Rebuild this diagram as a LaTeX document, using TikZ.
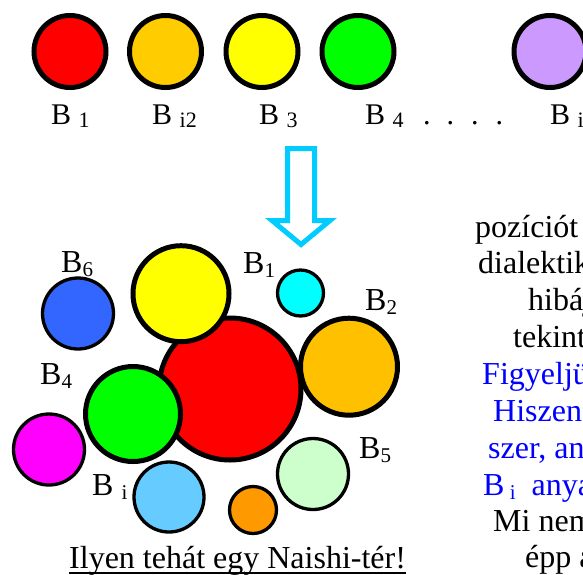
\documentclass[tikz,border=0pt]{standalone}
\usepackage{fontspec}
\setmainfont{Liberation Serif}
\definecolor{cRed}{HTML}{FF0000}
\definecolor{cOrange}{HTML}{FFCC00}
\definecolor{cOrangeB}{HTML}{FFC000}
\definecolor{cYellow}{HTML}{FFFF00}
\definecolor{cGreen}{HTML}{00FF00}
\definecolor{cPurple}{HTML}{CC99FF}
\definecolor{cBlue}{HTML}{3366FF}
\definecolor{cCyan}{HTML}{00FFFF}
\definecolor{cMagenta}{HTML}{FF00FF}
\definecolor{cLightBlue}{HTML}{66CCFF}
\definecolor{cSmallOrange}{HTML}{FF9900}
\definecolor{cLightGreen}{HTML}{CCFFCC}
\definecolor{cArrow}{HTML}{00CCFF}
\definecolor{cText}{HTML}{0000FF}
\newcommand\tsub[1]{\raisebox{-3pt}{\fontsize{22}{22}\selectfont #1}}
\newcommand\csub[1]{\raisebox{-4pt}{\fontsize{21}{21}\selectfont #1}}
\tikzset{
  bigball/.style={circle, draw=black, line width=5pt, inner sep=0pt},
  smallball/.style={circle, draw=black, line width=3.3pt, inner sep=0pt},
  toplbl/.style={anchor=base west, inner sep=0pt, font=\fontsize{30}{34}\selectfont},
  lbl/.style={anchor=base west, inner sep=0pt, font=\fontsize{32}{36}\selectfont},
  txtline/.style={anchor=base west, inner sep=0pt, font=\fontsize{32}{36}\selectfont},
  bluetxt/.style={txtline, text=cText},
  blockarrow/.style={draw=cArrow, fill=white, line width=5pt, line join=miter},
}
\begin{document}
\begin{tikzpicture}[x=1pt,y=-1pt]
\useasboundingbox (0,0) rectangle (583,574);
\begin{scope}
\clip (0,0) rectangle (583,574);
% top row
\node[bigball, fill=cRed, minimum size=72pt] (t1) at (70,51.5) {};
\node[bigball, fill=cOrange, minimum size=72pt] (t2) at (165.5,51.5) {};
\node[bigball, fill=cYellow, minimum size=72pt] (t3) at (262,51.5) {};
\node[bigball, fill=cGreen, minimum size=72pt] (t4) at (358,51.5) {};
\node[bigball, fill=cPurple, minimum size=72pt] (t5) at (550,51.5) {};
\node[toplbl] (l1) at (51,124) {B \tsub{1}};
\node[toplbl] (l2) at (152,124) {B \tsub{i2}};
\node[toplbl] (l3) at (259,124) {B \tsub{3}};
\node[toplbl] (l4) at (365,124) {B \tsub{4}};
\node[toplbl] (dots) at (423,124) {.\hspace{16pt}.\hspace{17pt}.\hspace{17pt}.};
\node[toplbl] (l5) at (550,124) {B \tsub{i}};
% arrow
\draw[blockarrow] (287.5,148.5) -- (314.5,148.5) -- (314.5,220.5) -- (330,220.5)
  -- (301,244.5) -- (272,220.5) -- (287.5,220.5) -- cycle;
% cluster
\node[bigball, fill=cRed, minimum size=142pt] (red) at (230,389) {};
\node[smallball, fill=cBlue, minimum size=71pt] (blue) at (78,313.5) {};
\node[bigball, fill=cYellow, minimum size=96pt] (yellow) at (181,293.7) {};
\node[smallball, fill=cCyan, minimum size=46pt] (cyan) at (300.5,293) {};
\node[bigball, fill=cOrangeB, minimum size=97pt] (orange) at (349,366.7) {};
\node[bigball, fill=cGreen, minimum size=95pt] (green) at (133,414) {};
\node[smallball, fill=cMagenta, minimum size=71pt] (magenta) at (49,449.5) {};
\node[smallball, fill=cLightBlue, minimum size=70pt] (lblue) at (169,497) {};
\node[smallball, fill=cSmallOrange, minimum size=47pt] (sorange) at (253,510) {};
\node[smallball, fill=cLightGreen, minimum size=71pt] (lgreen) at (313,474) {};
\node[lbl] (b6) at (61,272) {B\csub{6}};
\node[lbl] (b1) at (243,273) {B\csub{1}};
\node[lbl] (b2) at (365,310) {B\csub{2}};
\node[lbl] (b4) at (40,384) {B\csub{4}};
\node[lbl] (b5) at (359,458) {B\csub{5}};
\node[lbl] (bi) at (92,495) {B \csub{i}};
% caption
\node[lbl] (cap) at (69,568) {Ilyen tehát egy Naishi-tér!};
\draw[line width=2pt] ([yshift=-5pt]cap.base west) -- ([yshift=-5pt]cap.base east);
% right text
\node[txtline] (r1) at (475,237) {pozíciót};
\node[txtline] (r2) at (478,273) {dialektik};
\node[txtline] (r3) at (528,310) {hibáj};
\node[txtline] (r4) at (513,347) {tekint};
\node[bluetxt] (r5) at (482,384) {Figyeljü};
\node[bluetxt] (r6) at (493,421) {Hiszen};
\node[bluetxt] (r7) at (488,458) {szer, an};
\node[bluetxt] (r8) at (483,495) {B\,\csub{i}\ \ anya};
\node[txtline] (r9) at (493,531) {Mi nem};
\node[txtline] (r10) at (525,567) {épp a};
\end{scope}
\end{tikzpicture}
\end{document}
